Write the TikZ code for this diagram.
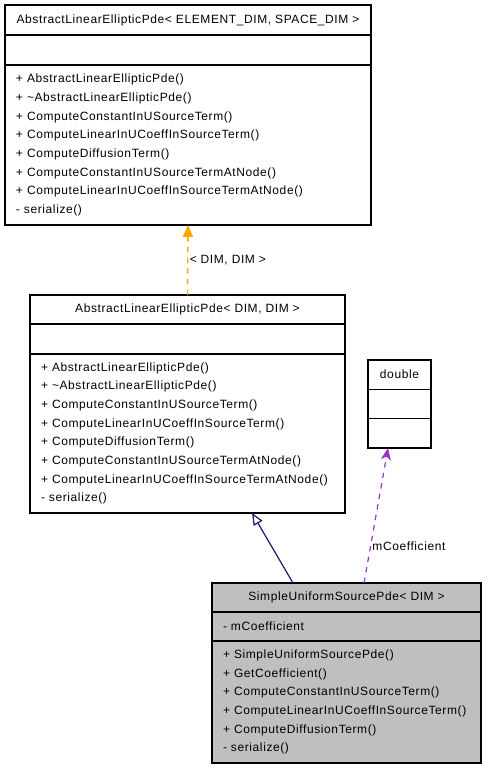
\documentclass[tikz,border=0pt]{standalone}
\usepackage{fontspec}
\setmainfont[LetterSpace=5]{Liberation Sans}
\usepackage{tikz}
\usetikzlibrary{arrows.meta}
\usepackage{xcolor}
\definecolor{classgray}{HTML}{BFBFBF}
\definecolor{tmplorange}{HTML}{FFA500}
\definecolor{inhnavy}{HTML}{191970}
\definecolor{usepurple}{HTML}{9A32CD}

\tikzset{
  classpart/.style={draw, line width=1.1pt, anchor=north west, inner sep=0pt, outer sep=0pt, font=\fontsize{9}{14}\selectfont},
  memberlist/.style={classpart, align=left, inner xsep=8.25pt},
  edgelabel/.style={anchor=west, inner sep=1pt, font=\fontsize{9}{14}\selectfont},
}

\begin{document}
\begin{tikzpicture}[x=0.75pt,y=0.75pt,yscale=-1,xscale=1]
        \useasboundingbox (0,0) rectangle (487,771);
        
        %Class: AbstractLinearEllipticPde< ELEMENT_DIM, SPACE_DIM >
        \node [classpart, minimum width=274.5pt, minimum height=22.5pt] (basetitle) at (5,5) {AbstractLinearEllipticPde< ELEMENT\_DIM, SPACE\_DIM >};
        \node [classpart, minimum width=274.5pt, minimum height=22.5pt] (baseattr) at (basetitle.south west) {};
        \node [memberlist, text width=258pt, minimum height=120pt] (basemeth) at (baseattr.south west) {+ AbstractLinearEllipticPde()\\+ \textasciitilde AbstractLinearEllipticPde()\\+ ComputeConstantInUSourceTerm()\\+ ComputeLinearInUCoeffInSourceTerm()\\+ ComputeDiffusionTerm()\\+ ComputeConstantInUSourceTermAtNode()\\+ ComputeLinearInUCoeffInSourceTermAtNode()\\- serialize()};
        
        %Class: AbstractLinearEllipticPde< DIM, DIM >
        \node [classpart, minimum width=236.25pt, minimum height=21.75pt] (midtitle) at (30,295) {AbstractLinearEllipticPde< DIM, DIM >};
        \node [classpart, minimum width=236.25pt, minimum height=22.5pt] (midattr) at (midtitle.south west) {};
        \node [memberlist, text width=219.75pt, minimum height=119.25pt] (midmeth) at (midattr.south west) {+ AbstractLinearEllipticPde()\\+ \textasciitilde AbstractLinearEllipticPde()\\+ ComputeConstantInUSourceTerm()\\+ ComputeLinearInUCoeffInSourceTerm()\\+ ComputeDiffusionTerm()\\+ ComputeConstantInUSourceTermAtNode()\\+ ComputeLinearInUCoeffInSourceTermAtNode()\\- serialize()};
        
        %Class: double
        \node [classpart, minimum width=47.25pt, minimum height=22pt] (dbltitle) at (368,360) {double};
        \node [classpart, minimum width=47.25pt, minimum height=22pt] (dblattr) at (dbltitle.south west) {};
        \node [classpart, minimum width=47.25pt, minimum height=22pt] (dbloper) at (dblattr.south west) {};
        
        %Class: SimpleUniformSourcePde< DIM >
        \node [classpart, fill=classgray, minimum width=201.75pt, minimum height=21.75pt] (simtitle) at (212,583) {SimpleUniformSourcePde< DIM >};
        \node [memberlist, fill=classgray, text width=185.25pt, minimum height=21.75pt] (simattr) at (simtitle.south west) {- mCoefficient};
        \node [memberlist, fill=classgray, text width=185.25pt, minimum height=91.5pt] (simmeth) at (simattr.south west) {+ SimpleUniformSourcePde()\\+ GetCoefficient()\\+ ComputeConstantInUSourceTerm()\\+ ComputeLinearInUCoeffInSourceTerm()\\+ ComputeDiffusionTerm()\\- serialize()};
        
        %Template instance edge
        \draw [tmplorange, line width=1pt, dash pattern={on 4pt off 4pt}, -{Triangle[width=7.5pt,length=9pt]}] (midtitle.north) -- (basemeth.south) node [edgelabel, midway, text=black] {< DIM, DIM >};
        
        %Inheritance edge
        \draw [inhnavy, line width=0.9pt, -{Triangle[open,width=7.5pt,length=9pt]}] ([xshift=60.75pt]simtitle.north west) -- ([xshift=48.4pt]midmeth.south);
        
        %Usage edge
        \draw [usepurple, line width=0.9pt, dash pattern={on 4pt off 4pt}, -{Stealth[width=7.5pt,length=9pt,inset=2.5pt]}] ([xshift=114pt]simtitle.north west) -- ([xshift=-8.6pt]dbloper.south) node [edgelabel, pos=0.27, text=black] {mCoefficient};
        
\end{tikzpicture}
\end{document}
